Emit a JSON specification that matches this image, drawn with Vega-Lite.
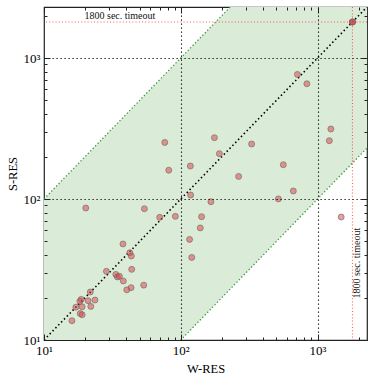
{
  "$schema": "https://vega.github.io/schema/vega-lite/v6.json",
  "width": 323,
  "height": 333,
  "autosize": "none",
  "padding": {"left": 44, "top": 7, "right": 7, "bottom": 39},
  "background": "white",
  "config": {
    "view": {"stroke": "#222", "strokeWidth": 1.2},
    "font": "Liberation Serif",
    "axis": {
      "labelFont": "Liberation Serif",
      "labelFontSize": 13,
      "labelColor": "black",
      "titleFont": "Liberation Serif",
      "titleFontSize": 12.5,
      "titleFontWeight": "normal",
      "titleColor": "black",
      "domain": false,
      "tickColor": "#222",
      "labelFlush": false,
      "labelOverlap": false
    }
  },
  "datasets": {
    "band": [
      {"x": 10, "lo": 1, "mid": 10, "hi": 100},
      {"x": 2300, "lo": 230, "mid": 2300, "hi": 23000}
    ],
    "pts": [
      {"w": 20.2, "s": 86.3}, {"w": 54.2, "s": 85.3}, {"w": 70.2, "s": 74.1}, {"w": 91.3, "s": 75.3},
      {"w": 37.8, "s": 48.0}, {"w": 42.4, "s": 41.6}, {"w": 43.5, "s": 39.4}, {"w": 43.8, "s": 31.7},
      {"w": 28.6, "s": 30.7}, {"w": 33.5, "s": 29.2}, {"w": 34.4, "s": 28.0}, {"w": 35.6, "s": 28.3},
      {"w": 38.0, "s": 26.2}, {"w": 53.6, "s": 24.5}, {"w": 43.3, "s": 23.5}, {"w": 40.3, "s": 22.7},
      {"w": 21.8, "s": 21.9}, {"w": 18.7, "s": 19.4}, {"w": 18.3, "s": 18.8}, {"w": 21.0, "s": 19.0},
      {"w": 23.6, "s": 19.2}, {"w": 17.1, "s": 17.1}, {"w": 19.0, "s": 17.2}, {"w": 22.0, "s": 17.3},
      {"w": 18.4, "s": 15.4}, {"w": 19.0, "s": 15.1}, {"w": 16.0, "s": 13.7},
      {"w": 76.4, "s": 251.9}, {"w": 176.2, "s": 272.2}, {"w": 329.6, "s": 245.5}, {"w": 191.6, "s": 209.6},
      {"w": 117.5, "s": 171.4}, {"w": 81.7, "s": 160.0}, {"w": 264.8, "s": 144.6}, {"w": 118.0, "s": 106.7},
      {"w": 166.1, "s": 95.7}, {"w": 142.0, "s": 74.9}, {"w": 138.9, "s": 62.4}, {"w": 116.0, "s": 51.7},
      {"w": 120.3, "s": 38.5},
      {"w": 1800, "s": 1800}, {"w": 1800, "s": 1800}, {"w": 1800, "s": 1800},
      {"w": 713, "s": 765}, {"w": 836, "s": 657}, {"w": 1251, "s": 313.6}, {"w": 1220, "s": 259},
      {"w": 562, "s": 175}, {"w": 665, "s": 114}, {"w": 517, "s": 100.2}, {"w": 1489, "s": 74.5}
    ],
    "timeout": [{"t": 1800}],
    "notes": [
      {"x": 35.9, "y": 1995, "label": "1800 sec. timeout", "ang": 0},
      {"x": 1950, "y": 35.1, "label": "1800 sec. timeout", "ang": 270}
    ]
  },
  "resolve": {"axis": {"x": "independent", "y": "independent"}},
  "layer": [
    {
      "data": {"name": "band"},
      "mark": {"type": "area", "clip": true, "color": "#daebd8", "opacity": 1},
      "encoding": {
        "x": {"field": "x", "type": "quantitative", "scale": {"type": "log", "domain": [10, 2300], "nice": false},
          "axis": {"orient": "top", "title": null, "labels": false, "grid": false, "zindex": 1,
            "values": [10,20,30,40,50,60,70,80,90,100,200,300,400,500,600,700,800,900,1000,2000],
            "tickSize": {"condition": {"test": "datum.value==10||datum.value==100||datum.value==1000", "value": -6}, "value": -3}}},
        "y": {"field": "lo", "type": "quantitative", "scale": {"type": "log", "domain": [10, 2300], "nice": false},
          "axis": {"orient": "right", "title": null, "labels": false, "grid": false, "zindex": 1,
            "values": [10,20,30,40,50,60,70,80,90,100,200,300,400,500,600,700,800,900,1000,2000],
            "tickSize": {"condition": {"test": "datum.value==10||datum.value==100||datum.value==1000", "value": -6}, "value": -3}}},
        "y2": {"field": "hi"}
      }
    },
    {
      "data": {"name": "band"},
      "mark": {"type": "line", "clip": true, "color": "#3a9a3a", "strokeWidth": 1.3, "strokeDash": [1.3, 2.2]},
      "encoding": {
        "x": {"field": "x", "type": "quantitative", "axis": null},
        "y": {"field": "hi", "type": "quantitative", "axis": null}
      }
    },
    {
      "data": {"name": "band"},
      "mark": {"type": "line", "clip": true, "color": "#3a9a3a", "strokeWidth": 1.3, "strokeDash": [1.3, 2.2]},
      "encoding": {
        "x": {"field": "x", "type": "quantitative", "axis": null},
        "y": {"field": "lo", "type": "quantitative", "axis": null}
      }
    },
    {
      "data": {"name": "band"},
      "mark": {"type": "line", "clip": true, "color": "black", "strokeWidth": 1.6, "strokeDash": [1.5, 2.6]},
      "encoding": {
        "x": {"field": "x", "type": "quantitative", "axis": null},
        "y": {"field": "mid", "type": "quantitative", "axis": null}
      }
    },
    {
      "data": {"name": "timeout"},
      "mark": {"type": "rule", "color": "#ff3030", "opacity": 0.8, "strokeWidth": 1.1, "strokeDash": [1, 2.2]},
      "encoding": {"x": {"field": "t", "type": "quantitative", "axis": null}}
    },
    {
      "data": {"name": "timeout"},
      "mark": {"type": "rule", "color": "#ff3030", "opacity": 0.8, "strokeWidth": 1.1, "strokeDash": [1, 2.2]},
      "encoding": {"y": {"field": "t", "type": "quantitative", "axis": null}}
    },
    {
      "data": {"name": "pts"},
      "mark": {"type": "point", "filled": true, "fill": "#e04848", "fillOpacity": 0.55, "stroke": "#666", "strokeOpacity": 0.6, "strokeWidth": 1, "size": 36, "clip": true},
      "encoding": {
        "x": {"field": "w", "type": "quantitative", "title": "W-RES",
          "axis": {"orient": "bottom", "zindex": 1,
            "values": [10,20,30,40,50,60,70,80,90,100,200,300,400,500,600,700,800,900,1000,2000],
            "labelExpr": "datum.value==10?'10¹':datum.value==100?'10²':datum.value==1000?'10³':''",
            "tickSize": {"condition": {"test": "datum.value==10||datum.value==100||datum.value==1000", "value": -6}, "value": -3},
            "labelPadding": 10, "titlePadding": 2,
            "grid": true, "gridColor": "black", "gridDash": [1.2, 2.8], "gridWidth": 1.1,
            "gridOpacity": {"condition": {"test": "datum.value==100||datum.value==1000", "value": 1}, "value": 0}}},
        "y": {"field": "s", "type": "quantitative", "title": "S-RES",
          "axis": {"orient": "left", "zindex": 1,
            "values": [10,20,30,40,50,60,70,80,90,100,200,300,400,500,600,700,800,900,1000,2000],
            "labelExpr": "datum.value==10?'10¹':datum.value==100?'10²':datum.value==1000?'10³':''",
            "tickSize": {"condition": {"test": "datum.value==10||datum.value==100||datum.value==1000", "value": -6}, "value": -3},
            "labelPadding": 10, "titlePadding": 4,
            "grid": true, "gridColor": "black", "gridDash": [1.2, 2.8], "gridWidth": 1.1,
            "gridOpacity": {"condition": {"test": "datum.value==100||datum.value==1000", "value": 1}, "value": 0}}}
      }
    },
    {
      "data": {"name": "notes"},
      "mark": {"type": "text", "font": "Liberation Serif", "fontSize": 10, "color": "#111", "align": "center", "baseline": "middle"},
      "encoding": {
        "x": {"field": "x", "type": "quantitative", "axis": null},
        "y": {"field": "y", "type": "quantitative", "axis": null},
        "text": {"field": "label"},
        "angle": {"field": "ang", "type": "quantitative", "scale": null}
      }
    }
  ]
}
